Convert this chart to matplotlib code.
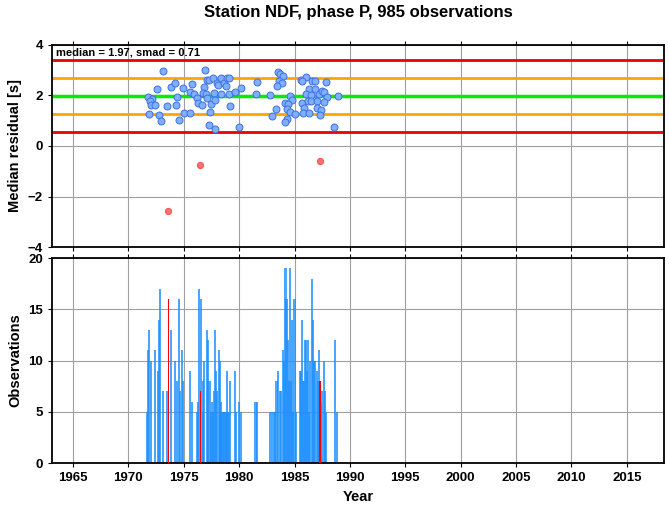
import matplotlib.pyplot as plt

plt.rcParams['font.family'] = ['Liberation Sans', 'DejaVu Sans']
plt.rcParams['font.weight'] = 'bold'

# median residual per event (year, residual in s)
res_year = [1973.15, 1976.9, 1972.6, 1971.8, 1972.1, 1971.95, 1972.0, 1972.4, 1971.9, 1972.8,
            1972.9, 1973.5, 1973.8, 1974.2, 1974.3, 1974.4, 1974.6, 1974.9, 1975.0, 1975.6,
            1975.7, 1975.6, 1975.9, 1976.2, 1976.3, 1976.6, 1976.8, 1976.7, 1977.1, 1977.3,
            1977.6, 1977.0, 1977.1, 1977.7, 1977.5, 1977.8, 1977.4, 1977.3, 1977.8, 1978.0,
            1978.1, 1978.4, 1978.6, 1978.9, 1979.1, 1978.8, 1978.4, 1979.1, 1979.2, 1979.6,
            1980.2, 1980.0, 1981.6, 1981.5, 1982.75, 1983.5, 1983.7, 1984.0, 1983.6, 1983.9,
            1983.4, 1984.6, 1984.8, 1984.1, 1984.4, 1984.3, 1983.3, 1984.6, 1985.0, 1983.0,
            1984.3, 1984.1, 1985.55, 1986.0, 1985.7, 1986.6, 1986.8, 1987.8, 1986.3, 1986.8,
            1986.0, 1986.5, 1987.2, 1987.5, 1987.7, 1987.9, 1988.9, 1985.7, 1986.2, 1986.5,
            1987.0, 1987.7, 1985.85, 1987.0, 1987.4, 1985.8, 1986.3, 1987.3, 1988.6]
res_val = [2.95, 3.02, 2.24, 1.95, 1.87, 1.80, 1.62, 1.62, 1.25, 1.21,
           0.97, 1.59, 2.34, 2.48, 1.62, 1.93, 1.02, 2.28, 1.29, 1.29,
           2.46, 2.15, 2.04, 1.91, 1.71, 1.64, 2.34, 2.11, 2.63, 2.61,
           2.70, 2.07, 1.91, 2.11, 1.68, 1.84, 1.33, 0.85, 0.69, 2.50,
           2.41, 2.70, 2.49, 2.70, 2.70, 2.37, 2.07, 2.07, 1.60, 2.13,
           2.29, 0.76, 2.53, 2.07, 2.00, 2.92, 2.86, 2.79, 2.59, 2.50,
           2.37, 1.97, 1.84, 1.71, 1.67, 1.47, 1.45, 1.33, 1.28, 1.18,
           1.08, 0.94, 2.61, 2.72, 2.57, 2.59, 2.57, 2.53, 2.24, 2.27,
           2.07, 2.00, 2.04, 2.17, 2.13, 1.95, 1.97, 1.71, 1.80, 1.77,
           1.77, 1.73, 1.49, 1.49, 1.41, 1.29, 1.29, 1.22, 0.74]

out_year = [1973.6, 1976.5, 1987.3]
out_val = [-2.58, -0.75, -0.6]

median = 1.97
smad = 0.71

# observations per bin
obs_year = [1971.71, 1971.80, 1971.89, 1972.01, 1972.40, 1972.70, 1972.73, 1972.85, 1973.12, 1973.51,
            1973.87, 1974.23, 1974.36, 1974.57, 1974.66, 1974.87, 1974.96, 1975.56, 1975.74, 1976.22,
            1976.25, 1976.37, 1976.55, 1976.70, 1976.76, 1976.85, 1977.07, 1977.16, 1977.21, 1977.36,
            1977.52, 1977.70, 1977.82, 1977.94, 1978.03, 1978.15, 1978.24, 1978.39, 1978.55, 1978.70,
            1978.87, 1979.08, 1979.17, 1979.59, 1979.74, 1980.01, 1980.19,
            1977.44, 1977.60, 1978.31, 1978.47, 1978.62, 1978.78, 1978.95,
            1981.47, 1981.63, 1982.76, 1983.0, 1983.11, 1983.26, 1983.37, 1983.52, 1983.68, 1983.80,
            1983.92, 1984.02, 1984.18, 1984.27, 1984.39, 1984.48, 1984.57, 1984.66, 1984.79, 1984.99,
            1984.88, 1985.10, 1985.50, 1985.62, 1985.71, 1985.78, 1985.85, 1985.93, 1986.0, 1986.1,
            1986.2, 1986.3, 1986.42, 1986.54, 1986.66, 1986.77, 1986.88, 1986.99, 1987.08, 1987.18,
            1987.40, 1987.50, 1987.62, 1987.71, 1987.83, 1988.62, 1988.87]
obs_count = [5, 11, 13, 10, 11, 9, 14, 17, 7, 7,
             13, 10, 8, 16, 7, 11, 8, 9, 6, 5,
             6, 17, 16, 5, 8, 10, 13, 12, 8, 8,
             6, 7, 13, 9, 7, 11, 10, 6, 5, 5,
             9, 5, 8, 9, 5, 6, 5,
             5, 5, 5, 5, 5, 5, 5,
             6, 6, 5, 5, 5, 5, 8, 9, 7, 7,
             11, 10, 19, 16, 12, 8, 19, 8, 14, 16,
             5, 5, 9, 9, 14, 8, 8, 12, 12, 9,
             12, 5, 10, 18, 14, 10, 10, 9, 8, 11,
             6, 7, 10, 7, 5, 12, 5]
red_year = [1973.60, 1976.49, 1987.31]
red_count = [16, 7, 8]

years = list(range(1965, 2020, 5))
xmin, xmax = 1963.1, 2018.35

fig = plt.figure(figsize=(6.69, 5.11), dpi=100)
ax1 = fig.add_axes([0.0777, 0.5166, 0.9148, 0.3954])
ax2 = fig.add_axes([0.0777, 0.0939, 0.9148, 0.4011])

fig.text(0.535, 0.975, 'Station NDF, phase P, 985 observations', ha='center', va='center',
         fontsize=12, fontweight='bold')

# top panel
ax1.axhline(median + 2 * smad, color='#ee0000', lw=2, zorder=2)
ax1.axhline(median - 2 * smad, color='#ee0000', lw=2, zorder=2)
ax1.axhline(median + smad, color='#ffa500', lw=2, zorder=2)
ax1.axhline(median - smad, color='#ffa500', lw=2, zorder=2)
ax1.axhline(median, color='#00ee00', lw=2.5, zorder=2)
ax1.plot(res_year, res_val, 'o', ms=5, mfc='#7fb0ff', mec='#3f6fe0', mew=0.7, zorder=3)
ax1.plot(out_year, out_val, 'o', ms=4.5, mfc='#ff7070', mec='#ff5050', mew=0.7, zorder=3)
ax1.text(0.006, 0.985, 'median = %.2f, smad = %.2f' % (median, smad), transform=ax1.transAxes,
         ha='left', va='top', fontsize=8, fontweight='bold')
ax1.set_xlim(xmin, xmax)
ax1.set_ylim(-4, 4)
ax1.set_yticks([-4, -2, 0, 2, 4])
ax1.set_xticks(years)
ax1.set_xticklabels([])
ax1.set_ylabel('Median residual [s]', fontsize=10.5, fontweight='bold')

# bottom panel
ax2.bar(obs_year, obs_count, width=0.19, color='#1e90ff', alpha=0.8, lw=0, zorder=2)
ax2.bar(red_year, red_count, width=0.12, color='#ff0000', lw=0, zorder=3)
ax2.set_xlim(xmin, xmax)
ax2.set_ylim(0, 20)
ax2.set_yticks([0, 5, 10, 15, 20])
ax2.set_xticks(years)
ax2.set_xlabel('Year', fontsize=10.5, fontweight='bold')
ax2.set_ylabel('Observations', fontsize=10.5, fontweight='bold')

for ax in (ax1, ax2):
    ax.grid(True, color='#a0a0a0', lw=0.8, zorder=0)
    ax.set_axisbelow(True)
    for s in ax.spines.values():
        s.set_linewidth(1.3)
    ax.tick_params(direction='out', length=3, width=0.8, labelsize=9.5, top=True)
    for lab in ax.get_xticklabels() + ax.get_yticklabels():
        lab.set_fontweight('bold')

fig.savefig('out.png', dpi=100)
